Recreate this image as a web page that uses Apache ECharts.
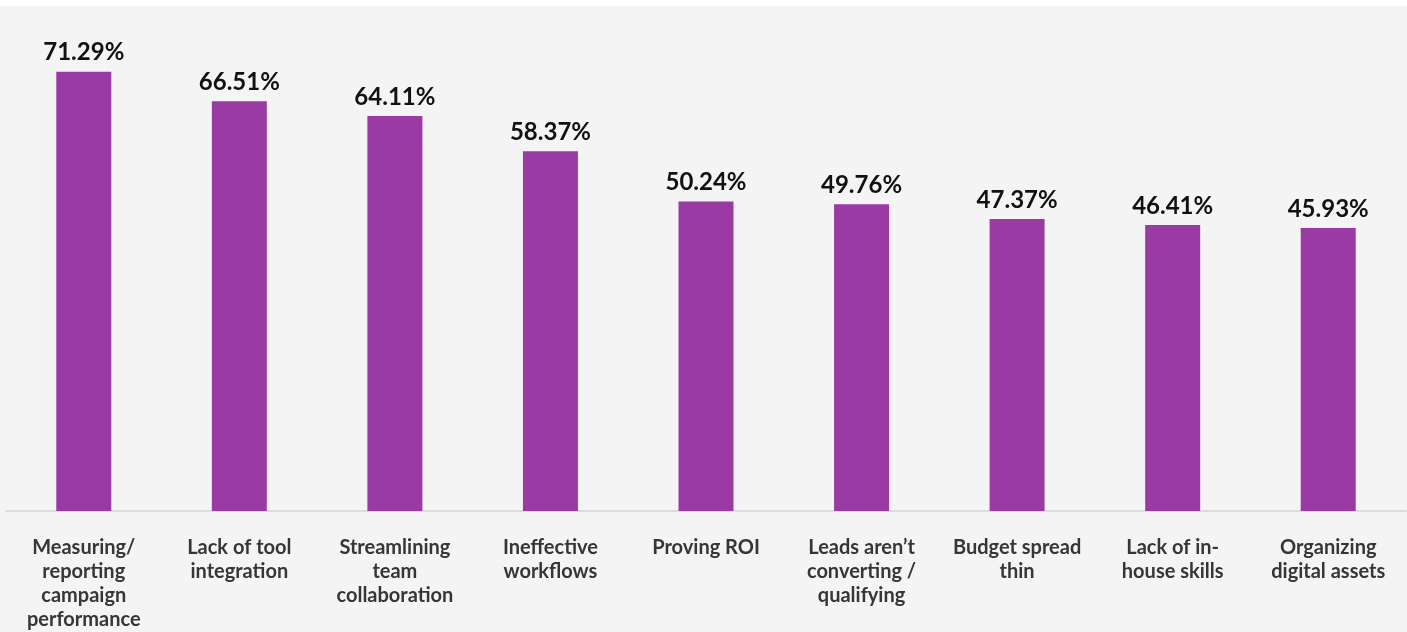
<!DOCTYPE html>
<html>
<head>
    <meta charset="utf-8">
    <title>ECharts</title>
    <script src="https://cdn.jsdelivr.net/npm/echarts@6/dist/echarts.min.js"></script>
    <style>
        body { margin: 0; background: #ffffff; }
        #main { position: absolute; left: 0; top: 6px; width: 1407px; height: 626px; background: #f4f4f4; }
    </style>
</head>
<body>
    <div id="main"></div>
    <script type="text/javascript">
        // categories and values
        var categories = [
            'Measuring/\nreporting\ncampaign\nperformance',
            'Lack of tool\nintegration',
            'Streamlining\nteam\ncollaboration',
            'Ineffective\nworkflows',
            'Proving ROI',
            'Leads aren\u2019t\nconverting /\nqualifying',
            'Budget spread\nthin',
            'Lack of in-\nhouse skills',
            'Organizing\ndigital assets'
        ];
        var shares = [71.29, 66.51, 64.11, 58.37, 50.24, 49.76, 47.37, 46.41, 45.93];

        var myChart = echarts.init(document.getElementById('main'));
        myChart.setOption({
            animation: false,
            grid: { left: 6, right: 1, top: 12, bottom: 118, containLabel: false },
            xAxis: {
                type: 'category',
                data: categories,
                axisLine: { lineStyle: { color: '#dcdcdc', width: 2 } },
                axisTick: { show: false },
                axisLabel: {
                    interval: 0,
                    margin: 25,
                    color: '#363636',
                    fontFamily: 'Lato',
                    fontWeight: 'bold',
                    fontSize: 20,
                    lineHeight: 24
                }
            },
            yAxis: {
                type: 'value',
                min: 0,
                max: 80,
                show: false
            },
            series: [{
                type: 'bar',
                data: shares,
                barWidth: 55,
                itemStyle: { color: '#9a3aa4' },
                label: {
                    show: true,
                    position: 'top',
                    distance: 7,
                    color: '#111111',
                    fontFamily: 'Lato',
                    fontWeight: 'bold',
                    fontSize: 24,
                    formatter: function (p) { return p.value.toFixed(2) + '%'; }
                }
            }]
        });
    </script>
</body>
</html>
